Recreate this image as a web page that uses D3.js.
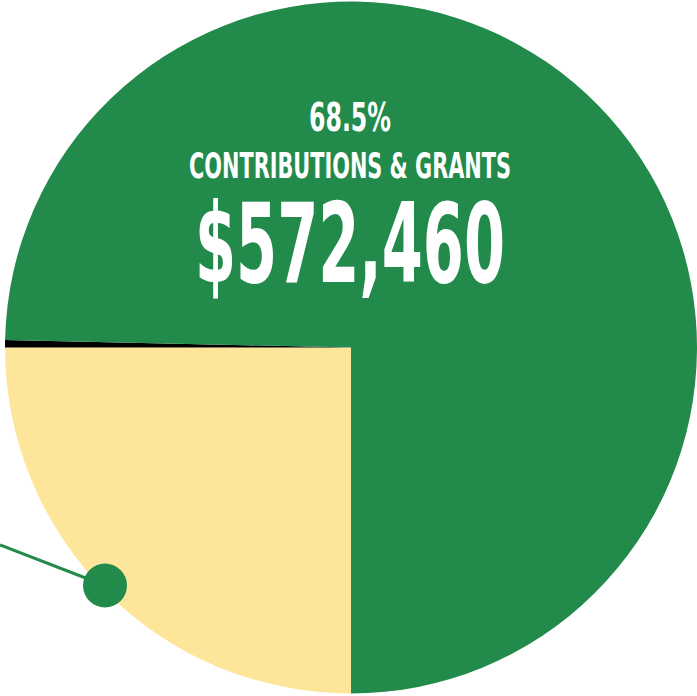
<!DOCTYPE html>
<html><head><meta charset="utf-8">
<script src="https://cdn.jsdelivr.net/npm/d3@7"></script>
<style>html,body{margin:0;padding:0;background:#fff;overflow:hidden}</style>
</head><body><svg id="c" width="697" height="696"></svg>
<script>
const categories = ["Other Revenue", "Misc", "Contributions & Grants"];
const shares = [25.0, 0.35, 74.65];
const colors = ["#fde699", "#000000", "#228a4b"];
const labelPct = "68.5%";
const labelName = "CONTRIBUTIONS & GRANTS";
const labelAmount = "$572,460";

const svg = d3.select("#c");
const cx = 351, cy = 347.5, r = 346;
const g = svg.append("g").attr("transform", `translate(${cx},${cy})`);
const pie = d3.pie().sort(null).startAngle(Math.PI).endAngle(3*Math.PI);
const arc = d3.arc().innerRadius(0).outerRadius(r);
const color = d3.scaleOrdinal().domain(categories).range(colors);
g.selectAll("path").data(pie(shares)).join("path")
  .attr("d", arc).attr("fill", (d,i)=>color(categories[i]));

// callout line and marker
svg.append("line").attr("x1",0).attr("y1",545).attr("x2",105).attr("y2",585.5)
  .attr("stroke","#228a4b").attr("stroke-width",3);
svg.append("circle").attr("cx",105).attr("cy",585.5).attr("r",22).attr("fill","#228a4b");

const ff = "'Liberation Sans Narrow','DejaVu Sans Condensed','Arial Narrow',sans-serif";
function txt(t, y, size, w){
  svg.append("text").attr("x",350).attr("y",y).attr("text-anchor","middle")
    .attr("font-family",ff).attr("font-weight","bold").attr("font-size",size)
    .attr("fill","#fff").attr("textLength",w).attr("lengthAdjust","spacingAndGlyphs").text(t);
}
txt(labelPct, 131, 39, 82);
txt(labelName, 178, 35, 322);
txt(labelAmount, 282, 110, 310);
</script></body></html>
